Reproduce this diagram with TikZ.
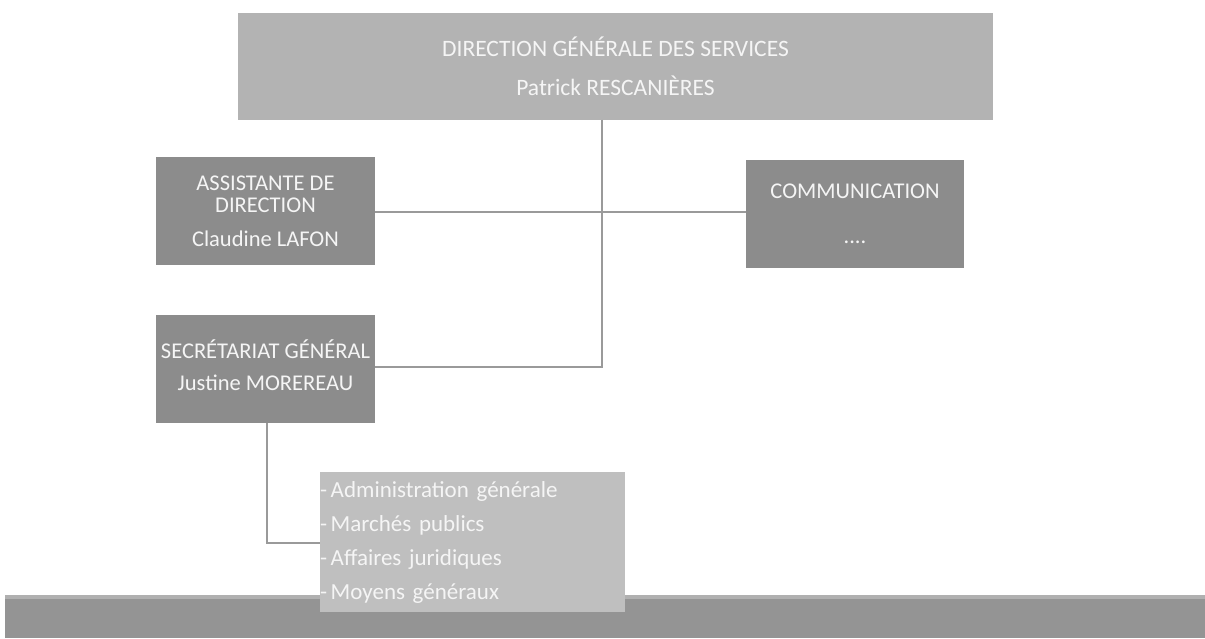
\documentclass[tikz,border=0pt]{standalone}
\usepackage{fontspec}
\setmainfont{Carlito}
\definecolor{topgray}{HTML}{B3B3B3}
\definecolor{darkbox}{HTML}{8C8C8C}
\definecolor{listgray}{HTML}{BFBFBF}
\definecolor{bandgray}{HTML}{949494}
\definecolor{bandtop}{HTML}{B0B0B0}
\definecolor{linegray}{HTML}{9A9A9A}
\definecolor{txt}{HTML}{F5F5F5}
\begin{document}
\begin{tikzpicture}[x=1pt,y=-1pt,
  box/.style={rectangle, inner sep=2pt, align=center, text=txt},
  conn/.style={draw=linegray, line width=1.2pt}]
\useasboundingbox (0,0) rectangle (1205,638);
\fill[white] (0,0) rectangle (1205,638);
% bottom band
\fill[bandgray] (5,595) rectangle (1205,638);
\fill[bandtop] (5,595) rectangle (1205,599);
% boxes
\node[box, fill=topgray, minimum width=755pt, minimum height=107pt,
  font=\fontsize{23.5}{39}\selectfont] (dgs) at (615.5,66)
  {DIRECTION GÉNÉRALE DES SERVICES\\Patrick RESCANIÈRES};
\node[box, fill=darkbox, minimum width=219pt, minimum height=108pt,
  font=\fontsize{22.5}{22.5}\selectfont] (assist) at (265.5,211)
  {ASSISTANTE DE\\DIRECTION\\[11pt]Claudine LAFON};
\node[box, fill=darkbox, minimum width=218pt, minimum height=108pt,
  font=\fontsize{22.5}{45}\selectfont] (comm) at (855,214)
  {COMMUNICATION\\....};
\node[box, fill=darkbox, minimum width=219pt, minimum height=108pt,
  font=\fontsize{22.5}{32}\selectfont] (sg) at (265.5,369)
  {SECRÉTARIAT GÉNÉRAL\\Justine MOREREAU\\[-24pt]\mbox{}};
% connectors
\coordinate (j1) at (602,212);
\coordinate (j2) at (602,367);
\coordinate (k1) at (267,543);
\draw[conn] (dgs.south -| j1) -- (j2) -- (sg.east |- j2);
\draw[conn] (assist.east |- j1) -- (comm.west |- j1);
\draw[conn] (sg.south -| k1) -- (k1) -- (320,543);
% list box
\node[box, fill=listgray, minimum width=305pt, minimum height=140pt,
  align=left, anchor=north west, inner xsep=0pt, inner ysep=0pt, text width=305pt,
  font=\fontsize{23}{34}\selectfont] (list) at (320,472)
  {-\hspace{3.5pt}Administration générale\\-\hspace{3.5pt}Marchés publics\\-\hspace{3.5pt}Affaires juridiques\\-\hspace{3.5pt}Moyens généraux};
\end{tikzpicture}
\end{document}
